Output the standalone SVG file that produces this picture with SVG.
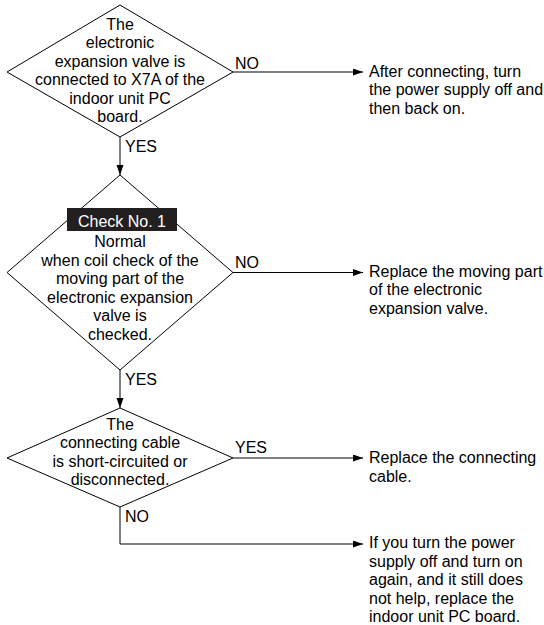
<svg xmlns="http://www.w3.org/2000/svg" width="544" height="625" viewBox="0 0 544 625">
<style>
text{font-family:"Liberation Sans",Arial,Helvetica,sans-serif;font-size:16px;fill:#000}
.c{text-anchor:middle}
.shape{fill:#fff;stroke:#000;stroke-width:1}
.conn{fill:none;stroke:#000;stroke-width:1}
.w{fill:#fff}
</style>
<defs>
<marker id="arr" markerUnits="userSpaceOnUse" markerWidth="11" markerHeight="8" refX="10" refY="3.5" orient="auto">
<path d="M0,0 L10,3.5 L0,7 Z" fill="#000"/>
</marker>
</defs>
<g id="connectors">
<path class="conn" d="M233,72 H363" marker-end="url(#arr)"/>
<path class="conn" d="M120,137 V175" marker-end="url(#arr)"/>
<path class="conn" d="M233,272.5 H363" marker-end="url(#arr)"/>
<path class="conn" d="M120,370 V408" marker-end="url(#arr)"/>
<path class="conn" d="M233,458 H363" marker-end="url(#arr)"/>
<path class="conn" d="M120,507 V544 H363" marker-end="url(#arr)"/>
<text x="235" y="69">NO</text>
<text x="125" y="152">YES</text>
<text x="235" y="268">NO</text>
<text x="125" y="385">YES</text>
<text x="235" y="453">YES</text>
<text x="125" y="522">NO</text>
</g>
<g id="decision1">
<polygon class="shape" points="120,5 233,72 120,137 7,72"/>
<text class="c" x="120" y="29.5">The</text>
<text class="c" x="120" y="48">electronic</text>
<text class="c" x="120" y="66.5">expansion valve is</text>
<text class="c" x="120" y="85">connected to X7A of the</text>
<text class="c" x="120" y="103.5">indoor unit PC</text>
<text class="c" x="120" y="122">board.</text>
</g>
<g id="decision2">
<polygon class="shape" points="120,175 233,272.5 120,370 7,272.5"/>
<rect x="67" y="208" width="110" height="23" fill="#231f20"/>
<text class="c w" x="122" y="226.5">Check No. 1</text>
<text class="c" x="120" y="247">Normal</text>
<text class="c" x="120" y="265.5">when coil check of the</text>
<text class="c" x="120" y="284">moving part of the</text>
<text class="c" x="120" y="302.5">electronic expansion</text>
<text class="c" x="120" y="321">valve is</text>
<text class="c" x="120" y="339.5">checked.</text>
</g>
<g id="decision3">
<polygon class="shape" points="120,408 233,458 120,507 7,458"/>
<text class="c" x="120" y="429.5">The</text>
<text class="c" x="120" y="448">connecting cable</text>
<text class="c" x="120" y="466.5">is short-circuited or</text>
<text class="c" x="120" y="485">disconnected.</text>
</g>
<g id="result1">
<text x="369" y="76.5">After connecting, turn</text>
<text x="369" y="95">the power supply off and</text>
<text x="369" y="113.5">then back on.</text>
</g>
<g id="result2">
<text x="369" y="276.5">Replace the moving part</text>
<text x="369" y="295">of the electronic</text>
<text x="369" y="313.5">expansion valve.</text>
</g>
<g id="result3">
<text x="369" y="463">Replace the connecting</text>
<text x="369" y="481.5">cable.</text>
</g>
<g id="result4">
<text x="369" y="548">If you turn the power</text>
<text x="369" y="566.5">supply off and turn on</text>
<text x="369" y="585">again, and it still does</text>
<text x="369" y="603.5">not help, replace the</text>
<text x="369" y="622">indoor unit PC board.</text>
</g>
</svg>
